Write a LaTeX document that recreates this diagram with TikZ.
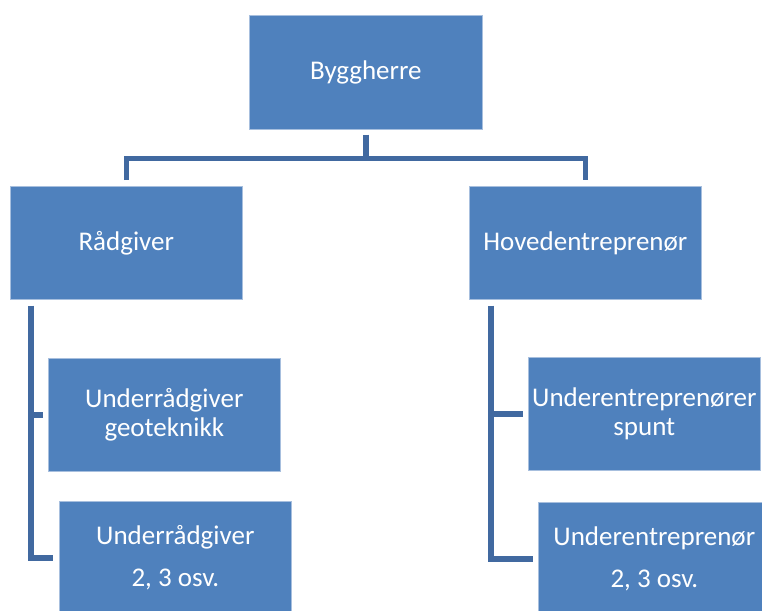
\documentclass[tikz,border=0pt]{standalone}
\usepackage{fontspec}
\setmainfont{Carlito}
\usetikzlibrary{calc}
\definecolor{boxblue}{HTML}{4F81BD}
\definecolor{boxedge}{HTML}{A7BFDE}
\definecolor{linkblue}{HTML}{4169A0}
\begin{document}
\begin{tikzpicture}[x=1pt,y=-1pt,
  orgbox/.style={rectangle, anchor=north west, fill=boxblue, draw=boxedge,
    line width=0.6pt, minimum width=232pt, minimum height=113pt, inner sep=0pt,
    text=white, align=center, font=\fontsize{27}{28.5}\selectfont},
  conn/.style={draw=linkblue, line width=5.5pt, line cap=butt, line join=miter}]
\useasboundingbox (0,0) rectangle (762,610);
\clip (0,0) rectangle (762,610);

% boxes
\node[orgbox, minimum width=233pt, minimum height=114pt] (top) at (249,15) {Byggherre};
\node[orgbox] (rad) at (10,186) {Rådgiver};
\node[orgbox] (hov) at (469,186) {Hovedentreprenør};
\node[orgbox] (geo) at (48,358) {Underrådgiver\\geoteknikk};
\node[orgbox] (ur2) at (59,501) {Underrådgiver\\[13pt]2, 3 osv.};
\node[orgbox] (spunt) at (528,357) {Underentreprenører\\spunt};
\node[orgbox] (ue2) at (538,502) {Underentreprenør\\[13pt]2, 3 osv.};

% top level bar
\coordinate (hub) at ($(top.south)+(0,29)$);
\draw[conn] ($(top.south)+(0,5)$) -- (hub);
\draw[conn] ($(rad.north)+(0,-6)$) |- (hub) -| ($(hov.north)+(0,-6)$);

% left branch
\coordinate (lspine) at ($(rad.south west)+(21,6)$);
\draw[conn] (lspine) |- ($(ur2.west)+(-6,0)$);
\draw[conn] ($(geo.west)+(-5,0)$) -- (lspine |- geo.west);

% right branch
\coordinate (rspine) at ($(hov.south west)+(22,6)$);
\draw[conn] (rspine) |- ($(ue2.west)+(-5,0)$);
\draw[conn] ($(spunt.west)+(-5,0)$) -- (rspine |- spunt.west);
\end{tikzpicture}
\end{document}
